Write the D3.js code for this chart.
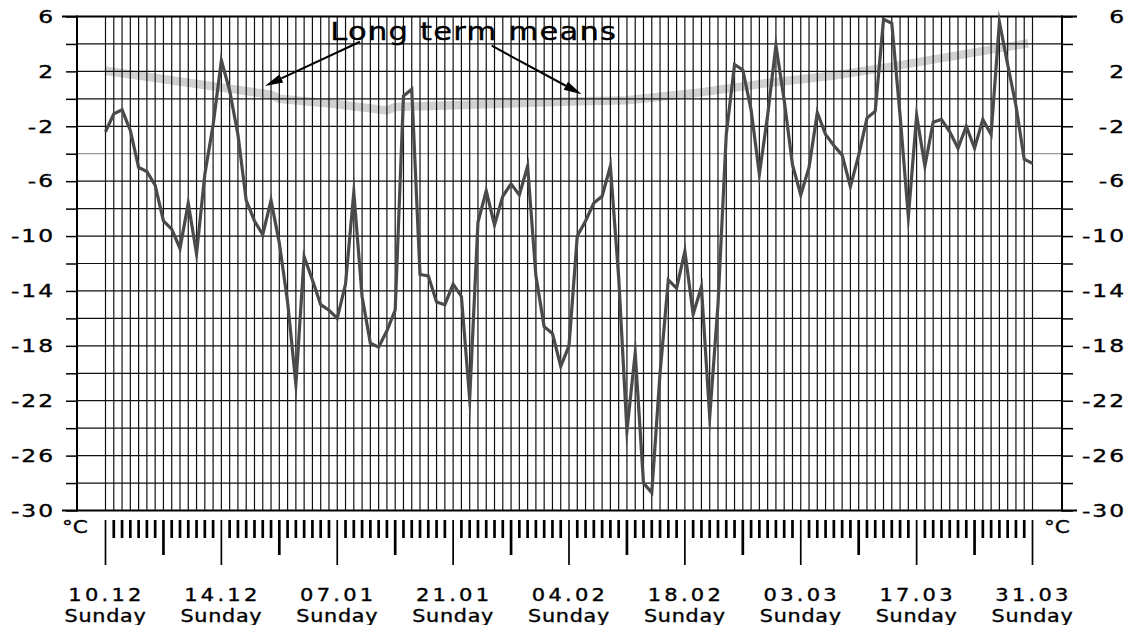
<!DOCTYPE html>
<html><head><meta charset="utf-8">
<script src="https://cdn.jsdelivr.net/npm/d3@7"></script>
<style>
body{margin:0;background:#fff}
svg{display:block}
text{font-family:"DejaVu Sans",Verdana,sans-serif;fill:#000;stroke:#000;stroke-width:0.35px}
</style>
</head><body>
<svg id="c" width="1132" height="625"></svg>
<script>
// ---- data ----
const temps = [
 -2.4,-1.1,-0.8,-2.3,-5.0,-5.3,-6.3,-8.9,-9.5,-10.9,
 -7.6,-11.3,-5.5,-1.9,2.8,0.6,-2.6,-7.4,-8.9,-9.9,
 -7.4,-10.5,-14.8,-20.8,-11.5,-13.2,-15.0,-15.4,-16.0,-13.5,
 -6.8,-14.4,-17.8,-18.1,-16.9,-15.4,0.2,0.7,-12.8,-12.9,
 -14.8,-15.0,-13.5,-14.4,-21.9,-9.0,-6.7,-9.2,-7.1,-6.2,
 -7.0,-4.9,-12.9,-16.6,-17.1,-19.5,-18.0,-10.0,-8.9,-7.6,
 -7.1,-4.9,-13.0,-24.2,-18.5,-28.0,-28.7,-20.0,-13.2,-13.8,
 -11.1,-15.7,-13.7,-23.2,-15.0,-2.6,2.5,2.1,-0.8,-5.5,
 -1.2,3.9,-0.1,-4.8,-7.0,-5.0,-1.0,-2.6,-3.4,-4.1,
 -6.4,-4.1,-1.4,-0.9,5.8,5.5,-1.2,-8.6,-1.2,-4.9,
 -1.7,-1.5,-2.4,-3.6,-2.0,-3.6,-1.5,-2.6,5.6,2.5,
 -0.5,-4.4,-4.7
];
const meanDays = [0, 20, 21, 28, 34, 35, 46, 56, 63, 71, 80, 88, 95, 111.5];
const meanVals = [2.05, 0.3, 0.0, -0.4, -0.85, -0.6, -0.4, -0.2, -0.1, 0.4, 1.15, 1.7, 2.35, 4.05];
const yTickValues = [6,4,2,0,-2,-4,-6,-8,-10,-12,-14,-16,-18,-20,-22,-24,-26,-28,-30];
const yLabels = [6,2,-2,-6,-10,-14,-18,-22,-26,-30];
const dateLabels = ["10.12","14.12","07.01","21.01","04.02","18.02","03.03","17.03","31.03"];
const dayLabel = "Sunday";
const unitLabel = "°C";
const annotation = "Long term means";
const arrowFrom = [[30.75, 4.16], [46.66, 3.87]];
const arrowTo = [[19.27, 0.93], [57.53, 0.33]];
const annotationPos = [27.16, 4.32];

// ---- scales ----
const svg = d3.select("#c");
const x = d3.scaleLinear().domain([0, temps.length - 1]).range([105.5, 1032.5]);
const y = d3.scaleLinear().domain([-30, 6]).range([510.5, 16.5]);
const xL = 77, xR = 1062;

// long-term mean band (under grid)
svg.append("path")
  .datum(meanDays.map((d,i)=>[d, meanVals[i]]))
  .attr("fill","none").attr("stroke","#d0d0d0").attr("stroke-width",8.5)
  .attr("d", d3.line().x(d=>x(d[0])).y(d=>y(d[1])));

// horizontal grid
svg.append("g").selectAll("line").data(yTickValues.filter(v=>v!==6 && v!==-30)).join("line")
  .attr("x1", xL).attr("x2", xR).attr("y1", d=>y(d)).attr("y2", d=>y(d))
  .attr("stroke", d=> d===-4 ? "#9a9a9a" : "#111").attr("stroke-width",1.2);

// vertical day grid
const days = d3.range(temps.length);
svg.append("g").selectAll("line").data(days).join("line")
  .attr("x1", d=>x(d)).attr("x2", d=>x(d)).attr("y1", y(6)).attr("y2", y(-30))
  .attr("stroke","#111").attr("stroke-width",1.2);

// frame top/bottom
[6,-30].forEach(v=>{
  svg.append("line").attr("x1",62).attr("x2",1077).attr("y1",y(v)).attr("y2",y(v))
    .attr("stroke","#000").attr("stroke-width",2);
});

// axes
function styleAxisText(g, anchor, dx, sx){
  g.select(".domain").remove();
  g.selectAll(".tick line").attr("stroke","#000").attr("stroke-width",1.5);
  g.selectAll("text").each(function(){
    const t = d3.select(this);
    t.attr("x",0).attr("text-anchor",anchor)
     .attr("transform",`translate(${dx},0) scale(${sx},1)`);
  });
  g.selectAll("text").style("font-size","18px").style("letter-spacing","1.5px");
}
const fmt = v => yLabels.includes(v) ? String(v) : "";
const gL = svg.append("g").attr("transform",`translate(${xL},0)`)
  .call(d3.axisLeft(y).tickValues(yTickValues).tickSize(11).tickFormat(fmt));
styleAxisText(gL, "end", -22, 1.3);
const gR = svg.append("g").attr("transform",`translate(${xR},0)`)
  .call(d3.axisRight(y).tickValues(yTickValues).tickSize(11).tickFormat(fmt));
styleAxisText(gR, "end", 64, 1.3);

// axis lines
[xL, xR].forEach(xx=>{
  svg.append("line").attr("x1",xx).attr("x2",xx).attr("y1",y(6)-1).attr("y2",y(-30)+1)
    .attr("stroke","#000").attr("stroke-width",2);
});

// temperature line
svg.append("path").datum(temps)
  .attr("fill","none").attr("stroke","#4a4a4a").attr("stroke-width",3.2)
  .attr("stroke-linejoin","miter").attr("stroke-miterlimit",40)
  .attr("d", d3.line().x((d,i)=>x(i)).y(d=>y(d)));

// bottom day ticks
svg.append("g").selectAll("line").data(days).join("line")
  .attr("x1", d=>x(d)).attr("x2", d=>x(d))
  .attr("y1", 520)
  .attr("y2", d=> d%14===0 ? 565 : (d%7===0 ? 555 : 538))
  .attr("stroke","#000")
  .attr("stroke-width", d=> d%14===0 ? 1.7 : 2.7);

// date labels
const labelDays = days.filter(d=>d%14===0);
const gl = svg.append("g").selectAll("g").data(labelDays).join("g")
  .attr("transform", d=>`translate(${x(d)},0)`);
gl.append("text").attr("text-anchor","middle")
  .attr("transform","translate(1,601) scale(1.2,1)")
  .style("font-size","17.5px").style("letter-spacing","2.7px")
  .text((d,i)=>dateLabels[i]);
gl.append("text").attr("text-anchor","middle")
  .attr("transform","translate(0,621.5) scale(1.22,1)")
  .style("font-size","17px").style("letter-spacing","0.6px")
  .text(dayLabel);

// unit labels
[[75, "middle"], [1057, "middle"]].forEach(([xx,a])=>{
  svg.append("text").attr("text-anchor",a)
    .attr("transform",`translate(${xx},533) scale(1.2,1)`)
    .style("font-size","18px").text(unitLabel);
});

// annotation
svg.append("text")
  .attr("transform",`translate(${x(annotationPos[0])},${y(annotationPos[1])}) scale(1.2,1)`)
  .style("font-size","25.5px").style("letter-spacing","1px")
  .text(annotation);
arrowFrom.forEach((f,i)=>{
  const t = arrowTo[i];
  const x1=x(f[0]), y1=y(f[1]), x2=x(t[0]), y2=y(t[1]);
  const ang = Math.atan2(y2-y1, x2-x1);
  const L=18, W=4.5;
  const bx = x2 - L*Math.cos(ang), by = y2 - L*Math.sin(ang);
  svg.append("line").attr("x1",x1).attr("y1",y1).attr("x2",bx).attr("y2",by)
    .attr("stroke","#000").attr("stroke-width",2);
  const px = -Math.sin(ang)*W, py = Math.cos(ang)*W;
  svg.append("path").attr("d",`M${x2},${y2}L${bx+px},${by+py}L${bx-px},${by-py}Z`).attr("fill","#000");
});
</script>
</body></html>
